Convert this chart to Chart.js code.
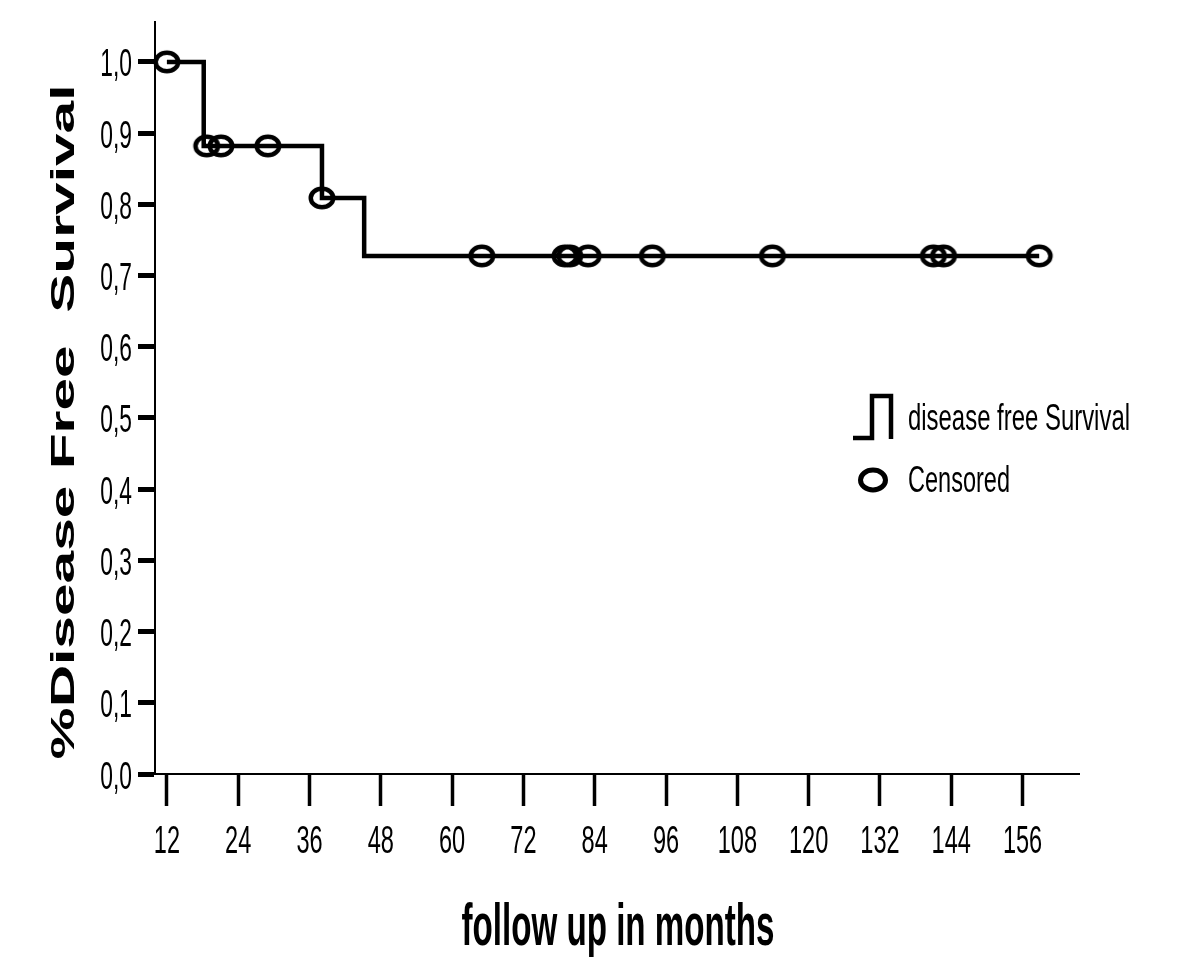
<!DOCTYPE html>
<html>
<head>
<meta charset="utf-8">
<script src="https://cdn.jsdelivr.net/npm/chart.js@4.4.0/dist/chart.umd.min.js"></script>
<style>
  html, body { margin: 0; padding: 0; background: #fff; }
</style>
</head>
<body>
<canvas id="kmChart" width="1200" height="974"></canvas>
<script>
// Kaplan-Meier steps (months, survival)
const stepMonths = [12, 18.2, 38.1, 45.2, 158.8];
const stepSurvival = [1.0, 0.882, 0.809, 0.7275, 0.7275];

// censored cases
const censoredMonths = [12, 18.7, 21.1, 29.0, 38.1, 65.0, 79.0, 79.8, 82.9, 93.7, 113.9, 141.0, 142.7, 158.8];
const censoredSurvival = [1.0, 0.882, 0.882, 0.882, 0.809, 0.7275, 0.7275, 0.7275, 0.7275, 0.7275, 0.7275, 0.7275, 0.7275, 0.7275];

const xTicks = [12, 24, 36, 48, 60, 72, 84, 96, 108, 120, 132, 144, 156];
const yTicks = [0, 0.1, 0.2, 0.3, 0.4, 0.5, 0.6, 0.7, 0.8, 0.9, 1.0];

const xTitle = 'follow up in months';
const yTitle = '%Disease Free  Survival';
const legendLabels = ['disease free Survival', 'Censored'];

const FONT = "'Liberation Sans', Arial, sans-serif";

// open ellipse used for censored marks
function makeEllipse(w, h, rx, ry, lw) {
  const c = document.createElement('canvas');
  c.width = w; c.height = h;
  const g = c.getContext('2d');
  g.strokeStyle = '#000';
  g.lineWidth = lw;
  g.beginPath();
  g.ellipse(w / 2, h / 2, rx, ry, 0, 0, Math.PI * 2);
  g.stroke();
  return c;
}
const censorMark = makeEllipse(32, 28, 11.25, 9.25, 4.5);
const legendMark = makeEllipse(34, 30, 12.5, 10, 5);

function drawText(ctx, text, x, y, font, opts) {
  opts = opts || {};
  ctx.save();
  ctx.font = font;
  ctx.fillStyle = '#000';
  ctx.textAlign = opts.align || 'left';
  ctx.textBaseline = 'alphabetic';
  let hs = opts.hscale || 1;
  if (opts.width) hs = opts.width / ctx.measureText(text).width;
  ctx.translate(x, y);
  if (opts.rotate) ctx.rotate(opts.rotate);
  ctx.scale(hs, 1);
  ctx.fillText(text, 0, 0);
  ctx.restore();
}

const textPlugin = {
  id: 'kmText',
  afterDraw(chart) {
    const ctx = chart.ctx;
    const xs = chart.scales.x, ys = chart.scales.y;

    // tick labels
    xs.ticks.forEach(t => {
      drawText(ctx, String(t.value), xs.getPixelForValue(t.value), 853, '38px ' + FONT, { align: 'center', hscale: 0.62 });
    });
    ys.ticks.forEach(t => {
      const lbl = t.value.toFixed(1).replace('.', ',');
      drawText(ctx, lbl, 132, ys.getPixelForValue(t.value) + 14.5, '38px ' + FONT, { align: 'right', hscale: 0.6 });
    });

    // axis titles
    drawText(ctx, xTitle, 618, 945, 'bold 60px ' + FONT, { align: 'center', width: 313 });
    drawText(ctx, yTitle, 74, 422, 'bold 33px ' + FONT, { align: 'center', width: 675, rotate: -Math.PI / 2 });

    // legend
    ctx.save();
    ctx.strokeStyle = '#000';
    ctx.lineWidth = 4.5;
    ctx.beginPath();
    ctx.moveTo(853, 438);
    ctx.lineTo(872, 438);
    ctx.lineTo(872, 396);
    ctx.lineTo(891, 396);
    ctx.lineTo(891, 439);
    ctx.stroke();
    ctx.drawImage(legendMark, 873 - 17, 480 - 15);
    ctx.restore();
    drawText(ctx, legendLabels[0], 908, 430, '36px ' + FONT, { width: 222 });
    drawText(ctx, legendLabels[1], 908, 492, '36px ' + FONT, { width: 102 });
  }
};

new Chart(document.getElementById('kmChart'), {
  type: 'scatter',
  data: {
    datasets: [
      {
        label: legendLabels[0],
        data: stepMonths.map((m, i) => ({ x: m, y: stepSurvival[i] })),
        showLine: true,
        stepped: 'before',
        borderColor: '#000',
        borderWidth: 4.5,
        pointRadius: 0,
        clip: false
      },
      {
        label: legendLabels[1],
        data: censoredMonths.map((m, i) => ({ x: m, y: censoredSurvival[i] })),
        showLine: false,
        pointStyle: censorMark,
        pointRadius: 13,
        clip: false
      }
    ]
  },
  options: {
    responsive: false,
    animation: false,
    devicePixelRatio: 1,
    layout: { padding: { top: 22, right: 121, left: 0, bottom: 0 } },
    plugins: {
      legend: { display: false },
      tooltip: { enabled: false }
    },
    scales: {
      x: {
        type: 'linear',
        min: 10,
        max: 165.5,
        afterBuildTicks: s => { s.ticks = xTicks.map(v => ({ value: v })); },
        afterFit: s => { s.height = 200; },
        ticks: { display: false },
        grid: { drawOnChartArea: false, drawTicks: true, tickLength: 32, tickWidth: 3.5, tickColor: '#000' },
        border: { display: true, color: '#000', width: 2 }
      },
      y: {
        type: 'linear',
        min: 0,
        max: 1.056,
        afterBuildTicks: s => { s.ticks = yTicks.map(v => ({ value: v })); },
        afterFit: s => { s.width = 155; },
        ticks: { display: false },
        grid: { drawOnChartArea: false, drawTicks: true, tickLength: 17, tickWidth: 5, tickColor: '#000' },
        border: { display: true, color: '#000', width: 2 }
      }
    }
  },
  plugins: [textPlugin]
});
</script>
</body>
</html>
